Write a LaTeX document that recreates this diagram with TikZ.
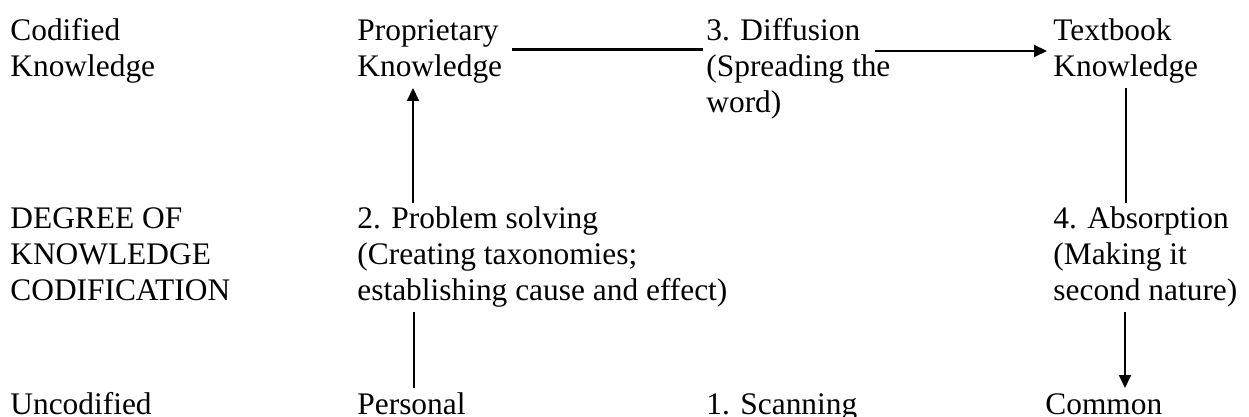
\documentclass[tikz,border=0pt]{standalone}
\usepackage{fontspec}
\setmainfont{Liberation Serif}
\usetikzlibrary{arrows.meta,calc}

\tikzset{
  txt/.style={anchor=base west, inner sep=0pt, align=left,
              font=\fontsize{15.7}{18}\selectfont},
  link/.style={line width=1.2pt},
  bar/.style={line width=1.5pt},
  arr/.style={line width=1pt, -{Triangle[length=6.5pt,width=6pt]}}
}

\begin{document}
\begin{tikzpicture}[x=0.5pt, y=-0.5pt]
  \useasboundingbox (0,0) rectangle (1249,417);
  \clip (0,0) rectangle (1249,417);

  % each node is placed at the baseline of its last line (36 units per line)
  % left column: axis labels
  \node[txt] (cod)   at (10,77)  {Codified\\Knowledge};
  \node[txt] (deg)   at (10,300) {DEGREE OF\\KNOWLEDGE\\CODIFICATION};
  \node[txt] (uncod) at (10,414) {Uncodified};

  % second column
  \node[txt] (prop)  at (357,77)  {Proprietary\\Knowledge};
  \node[txt] (prob)  at (357,300) {2. Problem solving\\(Creating taxonomies;\\establishing cause and effect)};
  \node[txt] (pers)  at (357,414) {Personal};

  % third column
  \node[txt] (diff)  at (706,113) {3. Diffusion\\(Spreading the\\word)};
  \node[txt] (scan)  at (706,414) {1. Scanning};

  % fourth column
  \node[txt] (tb)    at (1053,77)  {Textbook\\Knowledge};
  \node[txt] (abs)   at (1053,300) {4. Absorption\\(Making it\\second nature)};
  \node[txt] (com)   at (1045,414) {Common};

  % cycle connectors
  \draw[link] ($(pers.base west)+(57,-26)$) -- ($(prob.base west)+(57,12)$);
  \draw[arr]  ($(prob.base west)+(56,-97)$) -- ($(prop.base west)+(56,11)$);
  \draw[bar]  ($(prop.base west)+(155,-27)$) -- ($(diff.base west)+(-3,-63)$);
  \draw[arr]  ($(diff.base west)+(169,-62)$) -- ($(tb.base west)+(-6,-26)$);
  \draw[link] ($(tb.base west)+(73,11)$) -- ($(abs.base west)+(73,-97)$);
  \draw[arr]  ($(abs.base west)+(72,12)$) -- ($(com.base west)+(80,-26)$);
\end{tikzpicture}
\end{document}
